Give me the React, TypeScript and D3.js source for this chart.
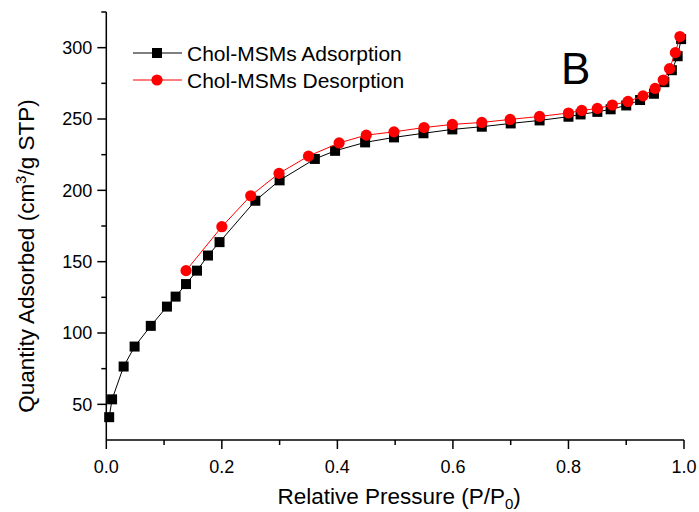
import React from 'react';
import * as d3 from 'd3';

const adsX = [0.005, 0.01, 0.03, 0.049, 0.077, 0.105, 0.12, 0.138, 0.157, 0.176, 0.196, 0.258, 0.3, 0.361, 0.396, 0.448, 0.498, 0.549, 0.599, 0.65, 0.7, 0.75, 0.8, 0.821, 0.85, 0.873, 0.9, 0.924, 0.948, 0.966, 0.979, 0.989, 0.995];
const adsY = [41, 53.5, 76.5, 90.5, 105, 118.5, 125.5, 134.3, 143.7, 154.3, 163.7, 192.7, 207, 222, 227.7, 233.6, 237.1, 240, 242.7, 244.6, 246.9, 249, 251.6, 253.2, 255, 256.8, 259.5, 263.3, 267.7, 275.8, 284.2, 294, 306];
const desX = [0.138, 0.2, 0.25, 0.299, 0.35, 0.403, 0.45, 0.498, 0.55, 0.599, 0.65, 0.699, 0.75, 0.8, 0.823, 0.85, 0.876, 0.903, 0.929, 0.95, 0.964, 0.975, 0.985, 0.993];
const desY = [143.7, 174.5, 196.2, 211.9, 224, 233.2, 238.7, 241, 244, 246.2, 247.6, 249.7, 251.8, 254.2, 256, 257.4, 259.8, 262.3, 266.2, 271.4, 277.3, 285.3, 296.5, 307.8];
const xTicks = [0, 0.2, 0.4, 0.6, 0.8, 1.0];
const xMinor = [0.1, 0.3, 0.5, 0.7, 0.9];
const yTicks = [50, 100, 150, 200, 250, 300];
const yMinor = [75, 125, 175, 225, 275];
const seriesNames = ['Chol-MSMs Adsorption', 'Chol-MSMs Desorption'];

const W = 699, H = 512;
const L = 106.3, R = 684, T = 12, B = 440;
const FONT = 'Liberation Sans, Arial, sans-serif';

export default function App() {
  const x = d3.scaleLinear().domain([0, 1]).range([L, R]);
  const y = d3.scaleLinear().domain([25, 325]).range([B, T]);
  const ads = adsX.map((v, i) => [v, adsY[i]] as [number, number]);
  const des = desX.map((v, i) => [v, desY[i]] as [number, number]);
  const line = d3.line<[number, number]>().x(d => x(d[0])).y(d => y(d[1]));
  const sq = 10, cr = 5.6;
  return (
    <svg width={W} height={H} style={{ position: 'absolute', left: 0, top: 0, background: '#fff' }} fontFamily={FONT}>
      <rect width={W} height={H} fill="#fff" />
      {/* series */}
      <path d={line(ads) || ''} fill="none" stroke="#000" strokeWidth={1} />
      {ads.map((d, i) => (
        <rect key={'a' + i} x={x(d[0]) - sq / 2} y={y(d[1]) - sq / 2} width={sq} height={sq} fill="#000" />
      ))}
      <path d={line(des) || ''} fill="none" stroke="#ff0000" strokeWidth={1} />
      {des.map((d, i) => (
        <circle key={'d' + i} cx={x(d[0])} cy={y(d[1])} r={cr} fill="#ff0000" />
      ))}
      {/* axes */}
      <line x1={L} x2={L} y1={T} y2={B} stroke="#000" strokeWidth={1.5} />
      <line x1={L} x2={R} y1={B} y2={B} stroke="#000" strokeWidth={1.5} />
      {yTicks.map(t => (
        <g key={'yt' + t}>
          <line x1={L - 9} x2={L} y1={y(t)} y2={y(t)} stroke="#000" strokeWidth={1.5} />
          <text x={L - 14} y={y(t)} dy="0.36em" textAnchor="end" fontSize={18}>{t}</text>
        </g>
      ))}
      {yMinor.map(t => (
        <line key={'ym' + t} x1={L - 5} x2={L} y1={y(t)} y2={y(t)} stroke="#000" strokeWidth={1.5} />
      ))}
      <line x1={L - 5} x2={L} y1={T} y2={T} stroke="#000" strokeWidth={1.5} />
      {xTicks.map(t => (
        <g key={'xt' + t}>
          <line x1={x(t)} x2={x(t)} y1={B} y2={B + 9} stroke="#000" strokeWidth={1.5} />
          <text x={x(t)} y={473} textAnchor="middle" fontSize={18}>{t.toFixed(1)}</text>
        </g>
      ))}
      {xMinor.map(t => (
        <line key={'xm' + t} x1={x(t)} x2={x(t)} y1={B} y2={B + 5} stroke="#000" strokeWidth={1.5} />
      ))}
      {/* axis titles */}
      <text x={(L + R) / 2 + 4} y={504} textAnchor="middle" fontSize={22.5}>
        Relative Pressure (P/P<tspan fontSize={15} dy={5}>0</tspan><tspan dy={-5}>)</tspan>
      </text>
      <text transform={`translate(34,256) rotate(-90)`} textAnchor="middle" fontSize={22.5}>
        Quantity Adsorbed (cm<tspan fontSize={15} dy={-8}>3</tspan><tspan dy={8}>/g STP)</tspan>
      </text>
      {/* legend */}
      <line x1={133} x2={182} y1={53} y2={53} stroke="#000" strokeWidth={1} />
      <rect x={157 - sq / 2} y={53 - sq / 2} width={sq} height={sq} fill="#000" />
      <text x={187} y={53} dy="0.36em" fontSize={21}>{seriesNames[0]}</text>
      <line x1={133} x2={182} y1={80} y2={80} stroke="#ff0000" strokeWidth={1} />
      <circle cx={157} cy={80} r={cr} fill="#ff0000" />
      <text x={187} y={80} dy="0.36em" fontSize={21}>{seriesNames[1]}</text>
      {/* panel label */}
      <text x={561} y={84} fontSize={44}>B</text>
    </svg>
  );
}
